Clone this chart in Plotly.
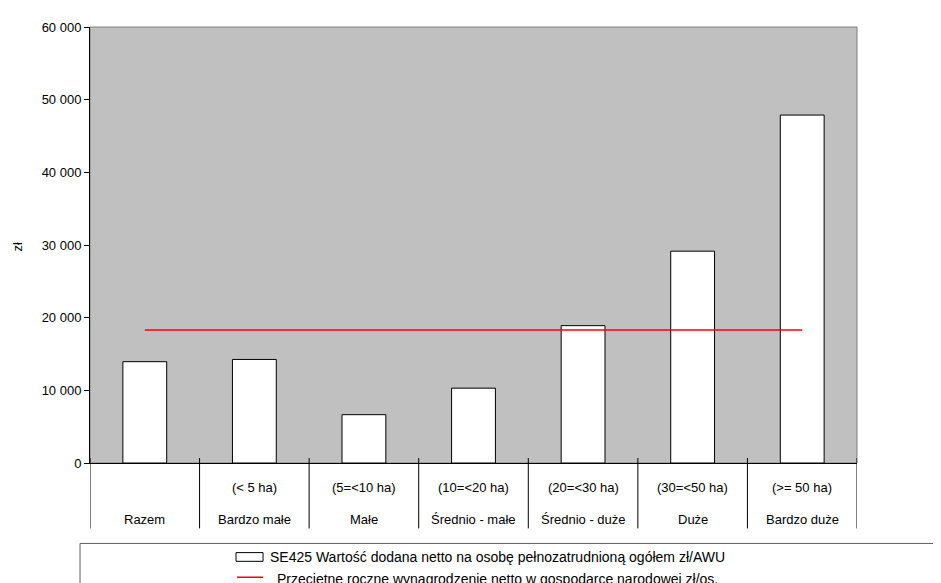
import plotly.graph_objects as go

categories = ["Razem", "Bardzo małe", "Małe", "Średnio - małe", "Średnio - duże", "Duże", "Bardzo duże"]
size_labels = ["", "(< 5 ha)", "(5=<10 ha)", "(10=<20 ha)", "(20=<30 ha)", "(30=<50 ha)", "(>= 50 ha)"]
se425_values = [13940, 14250, 6650, 10300, 18900, 29150, 47880]
wage_values = [18310, 18310, 18310, 18310, 18310, 18310, 18310]
y_ticks = [0, 10000, 20000, 30000, 40000, 50000, 60000]

bar_name = "SE425 Wartość dodana netto na osobę pełnozatrudnioną ogółem zł/AWU"
line_name = "Przeciętne roczne wynagrodzenie netto w gospodarce narodowej zł/os."
bar_fill = "white"
bar_edge = "black"
line_color = "#FF0000"

FONT = "Liberation Sans, Arial, sans-serif"

fig = go.Figure()
fig.add_trace(go.Bar(
    x=categories, y=se425_values, name=bar_name, width=0.4,
    marker=dict(color=bar_fill, line=dict(color=bar_edge, width=1)),
))
fig.add_trace(go.Scatter(
    x=categories, y=wage_values, name=line_name, mode="lines",
    line=dict(color=line_color, width=1.5),
))

n = len(categories)
shapes = []
# grey plot frame (top/right)
shapes.append(dict(type="rect", xref="paper", yref="paper", x0=0, x1=1, y0=0, y1=1,
                   line=dict(color="#808080", width=1), layer="below"))
# category separators
for i in range(n + 1):
    shapes.append(dict(type="line", xref="x", yref="paper", x0=i - 0.5, x1=i - 0.5,
                       y0=0.0114, y1=-0.150, line=dict(color="black", width=1)))
# legend frame
shapes.append(dict(type="rect", xref="paper", yref="paper", x0=-0.013, x1=1.3,
                   y0=-0.1845, y1=-0.6, line=dict(color="#606060", width=1),
                   fillcolor="rgba(0,0,0,0)"))
# legend keys
shapes.append(dict(type="rect", xref="paper", yref="paper", x0=0.1904, x1=0.2256,
                   y0=-0.2055, y1=-0.2255, fillcolor=bar_fill,
                   line=dict(color=bar_edge, width=1)))
shapes.append(dict(type="line", xref="paper", yref="paper", x0=0.1917, x1=0.2256,
                   y0=-0.262, y1=-0.262, line=dict(color=line_color, width=1.5)))

annotations = []
for c, s in zip(categories, size_labels):
    if s:
        annotations.append(dict(x=c, xref="x", y=-0.057, yref="paper", text=s,
                                showarrow=False, yanchor="middle", xanchor="center",
                                font=dict(size=13, color="black", family=FONT)))
    annotations.append(dict(x=c, xref="x", y=-0.130, yref="paper", text=c,
                            showarrow=False, yanchor="middle", xanchor="center",
                            font=dict(size=13, color="black", family=FONT)))
annotations.append(dict(x=-0.094, xref="paper", y=0.4966, yref="paper", text="zł",
                        textangle=-90, showarrow=False, xanchor="center", yanchor="middle",
                        font=dict(size=13, color="black", family=FONT)))
# legend texts
annotations.append(dict(x=0.2321, xref="paper", y=-0.2164, yref="paper", text=bar_name,
                        showarrow=False, xanchor="left", yanchor="middle",
                        font=dict(size=14, color="black", family=FONT)))
annotations.append(dict(x=0.2412, xref="paper", y=-0.2665, yref="paper", text=line_name,
                        showarrow=False, xanchor="left", yanchor="middle",
                        font=dict(size=14, color="black", family=FONT)))

fig.update_layout(
    width=941, height=583,
    margin=dict(l=82, r=92, t=16, b=128),
    paper_bgcolor="white", plot_bgcolor="#C0C0C0",
    separators=", ",
    font=dict(family=FONT, size=13, color="black"),
    shapes=shapes, annotations=annotations,
    showlegend=False,
)
fig.update_xaxes(type="category", categoryorder="array", categoryarray=categories,
                 range=[-0.5, n - 0.5], showticklabels=False, ticks="",
                 showline=True, linecolor="black", linewidth=1, showgrid=False, zeroline=False)
fig.update_yaxes(range=[0, 60000], tickvals=y_ticks, tickformat=",d",
                 ticks="outside", ticklen=5, tickcolor="black",
                 showline=True, linecolor="black", linewidth=1,
                 showgrid=False, zeroline=False,
                 tickfont=dict(size=13, family=FONT, color="black"))

fig.write_html("out.html")
